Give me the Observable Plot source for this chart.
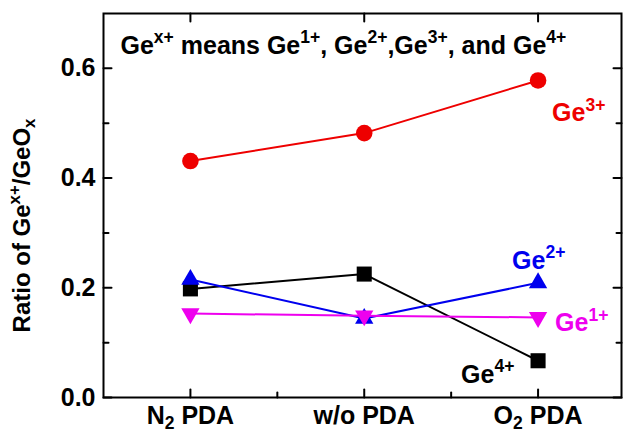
<!DOCTYPE html>
<html>
<head>
<meta charset="utf-8">
<script src="https://cdn.jsdelivr.net/npm/d3@7"></script>
<script src="https://cdn.jsdelivr.net/npm/@observablehq/plot@0.6"></script>
<style>
  html, body { margin: 0; padding: 0; background: #fff; }
</style>
</head>
<body>
<div id="chart"></div>
<script>
// Annealing conditions along the x axis (markup: _{..} subscript, ^{..} superscript)
const conditions = ["N_{2} PDA", "w/o PDA", "O_{2} PDA"];

// Ratio of each Ge oxidation state to total GeOx, per condition
const ge4 = [0.198, 0.225, 0.067];
const ge3 = [0.431, 0.482, 0.578];
const ge2 = [0.215, 0.144, 0.209];
const ge1 = [0.153, 0.149, 0.146];

const seriesNames = ["Ge^{4+}", "Ge^{3+}", "Ge^{2+}", "Ge^{1+}"];

// Axis ticks
const yMajor = [0, 0.2, 0.4, 0.6];
const yMinor = [0.1, 0.3, 0.5];
const xMajor = [0, 1, 2];
const xMinor = [0.5, 1.5];

const note = "Ge^{x+} means Ge^{1+}, Ge^{2+},Ge^{3+}, and Ge^{4+}";
const yTitle = "Ratio of Ge^{x+}/GeO_{x}";

const valuesBySeries = [ge4, ge3, ge2, ge1];
const table = seriesNames.flatMap((s, k) =>
  valuesBySeries[k].map((v, i) => ({series: s, i, value: v}))
);

// Look of each series and where its label sits next to the O2 PDA point
const looks = {
  "Ge^{4+}": {color: "#000000", symbol: "square", r: 8.5, rotate: 0, dx: -77, dy: 14},
  "Ge^{3+}": {color: "#ee0000", symbol: "circle", r: 8.3, rotate: 0, dx: 14, dy: 33},
  "Ge^{2+}": {color: "#0000ee", symbol: "triangle", r: 6.8, rotate: 0, dx: -26, dy: -22},
  "Ge^{1+}": {color: "#ee00ee", symbol: "triangle", r: 6.8, rotate: 180, dx: 17, dy: 6}
};

// Inward tick drawn from the frame edge
const tickShape = {draw(ctx, l) { ctx.moveTo(0, 0); ctx.lineTo(0, -l); }};
const ticks = (data, side, length) => {
  const rotate = {left: 90, right: -90, bottom: 0, top: 180}[side];
  const ch = side === "left" || side === "right" ? {y: d => d} : {x: d => d};
  return Plot.vector(data, {...ch, frameAnchor: side, rotate, length, anchor: "start",
    shape: tickShape, stroke: "#000", strokeWidth: 2});
};

const seriesMarks = seriesNames.flatMap(s => {
  const lk = looks[s];
  const rows = table.filter(d => d.series === s);
  const last = rows.filter(d => d.i === 2);
  return [
    Plot.line(rows, {x: "i", y: "value", stroke: lk.color, strokeWidth: 2}),
    Plot.dot(rows, {x: "i", y: "value", symbol: lk.symbol, r: lk.r, rotate: lk.rotate,
      fill: lk.color, stroke: "none"}),
    Plot.text(last, {x: "i", y: "value", text: d => d.series, fill: lk.color,
      textAnchor: "start", lineAnchor: "middle", dx: lk.dx, dy: lk.dy, fontSize: 25})
  ];
});

const chart = Plot.plot({
  width: 624,
  height: 433,
  marginLeft: 103,
  marginRight: 3,
  marginTop: 13,
  marginBottom: 36,
  style: {fontFamily: "'Liberation Sans', Arial, sans-serif", fontWeight: "bold",
    background: "#fff", color: "#000", overflow: "visible"},
  x: {domain: [-0.5, 2.48]},
  y: {domain: [0, 0.7]},
  marks: [
    Plot.axisY(yMajor, {tickSize: 0, tickPadding: 8, fontSize: 25,
      tickFormat: d => d.toFixed(1), label: null}),
    Plot.axisX(xMajor, {tickSize: 0, tickPadding: 9, fontSize: 25,
      tickFormat: i => conditions[i], label: null}),
    ticks(yMajor, "left", 8), ticks(yMinor, "left", 5),
    ticks(yMajor, "right", 8), ticks(yMinor, "right", 5),
    ticks(xMajor, "bottom", 8), ticks(xMinor, "bottom", 5),
    ticks(xMajor, "top", 8),
    ...seriesMarks,
    Plot.text([note], {text: d => d, frameAnchor: "top-left", textAnchor: "start",
      lineAnchor: "middle", dx: 17, dy: 32, fontSize: 25}),
    Plot.text([yTitle], {text: d => d, frameAnchor: "left", textAnchor: "middle", rotate: -90,
      lineAnchor: "middle", dx: -81, dy: 20, fontSize: 24}),
    Plot.frame({stroke: "#000", strokeWidth: 2})
  ]
});

document.getElementById("chart").appendChild(chart);

// Turn ^{..} and _{..} markup into raised / lowered tspans
function parseMarkup(s) {
  const out = [];
  const re = /([\^_])\{([^}]*)\}/g;
  let last = 0, m;
  while ((m = re.exec(s))) {
    if (m.index > last) out.push({t: s.slice(last, m.index), k: 0});
    out.push({t: m[2], k: m[1] === "^" ? 1 : -1});
    last = re.lastIndex;
  }
  if (last < s.length) out.push({t: s.slice(last), k: 0});
  return out;
}
const NS = "http://www.w3.org/2000/svg";
chart.querySelectorAll("text, tspan").forEach(el => {
  if (el.children.length) return;
  const s = el.textContent;
  if (!/[\^_]\{/.test(s)) return;
  const fs = parseFloat(getComputedStyle(el).fontSize);
  el.textContent = "";
  let cur = 0;
  for (const seg of parseMarkup(s)) {
    const ts = document.createElementNS(NS, "tspan");
    const target = seg.k === 1 ? -0.42 * fs : seg.k === -1 ? 0.2 * fs : 0;
    if (target !== cur) ts.setAttribute("dy", (target - cur).toFixed(2));
    cur = target;
    if (seg.k) ts.setAttribute("font-size", (0.7 * fs).toFixed(2));
    ts.textContent = seg.t;
    el.appendChild(ts);
  }
});
</script>
</body>
</html>
